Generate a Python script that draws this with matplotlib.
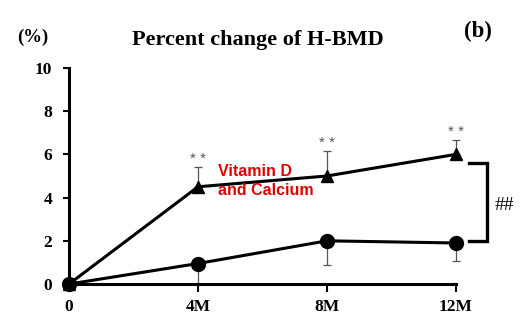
import numpy as np
import matplotlib.pyplot as plt

# months and percent change
months = [0, 4, 8, 12]
month_labels = ["0", "4M", "8M", "12M"]
vitd_ca = [0, 4.5, 5.0, 6.0]
vitd_ca_err = [0, 0.9, 1.15, 0.65]
control = [0, 0.95, 2.0, 1.9]
control_err = [0, 0.95, 1.1, 0.85]

serif = "Liberation Serif"

fig = plt.figure(figsize=(5.24, 3.28), dpi=100)
ax = fig.add_axes([0.1317, 0.134, 0.7385, 0.659])

# error bars: upward for treated group, downward for control
ax.errorbar(months, vitd_ca, yerr=[np.zeros(4), vitd_ca_err], fmt="none",
            ecolor="#555555", elinewidth=0.9, capsize=3, capthick=0.9, clip_on=False)
ax.errorbar(months, control, yerr=[control_err, np.zeros(4)], fmt="none",
            ecolor="#555555", elinewidth=0.9, capsize=3, capthick=0.9, clip_on=False)

ax.plot(months, vitd_ca, color="black", lw=2.2, marker="^", ms=9, clip_on=False, zorder=3)
ax.plot(months, control, color="black", lw=2.2, marker="o", ms=10, clip_on=False, zorder=3)

# significance stars
for x, y, e in zip(months[1:], vitd_ca[1:], vitd_ca_err[1:]):
    ax.text(x, y + e + 0.05, "* *", ha="center", va="bottom", color="#555555",
            fontsize=11, family="Liberation Sans")

ax.text(4.62, 4.77, "Vitamin D\nand Calcium", color="#e00000", fontsize=11.5,
        fontweight="bold", family="Liberation Sans", ha="left", va="center",
        linespacing=1.3)

# bracket between groups at 12M
ax.plot([12.4, 12.95, 12.95, 12.4], [5.6, 5.6, 2.0, 2.0], color="black", lw=2.4,
        clip_on=False, solid_joinstyle="miter")
ax.text(13.2, 3.65, "##", ha="left", va="center", fontsize=14, family=serif)

ax.set_xlim(0, 12)
ax.set_ylim(0, 10)
ax.set_xticks(months)
ax.set_xticklabels(month_labels)
ax.set_yticks(range(0, 11, 2))
for lab in ax.get_xticklabels() + ax.get_yticklabels():
    lab.set_family(serif)
    lab.set_fontweight("bold")
    lab.set_fontsize(12.5)
ax.tick_params(axis="x", direction="out", length=6, width=1.5, pad=5)
ax.tick_params(axis="y", direction="out", length=4, width=1.5, pad=8)
ax.spines["top"].set_visible(False)
ax.spines["right"].set_visible(False)
ax.spines["left"].set_linewidth(2.2)
ax.spines["bottom"].set_linewidth(2.2)

fig.text(0.492, 0.878, "Percent change of H-BMD", ha="center", va="center",
         family=serif, fontweight="bold", fontsize=16)
fig.text(0.063, 0.887, "(%)", ha="center", va="center", family=serif,
         fontweight="bold", fontsize=13.5)
fig.text(0.913, 0.905, "(b)", ha="center", va="center", family=serif,
         fontweight="bold", fontsize=16.5)

fig.savefig("out.png", dpi=100)
